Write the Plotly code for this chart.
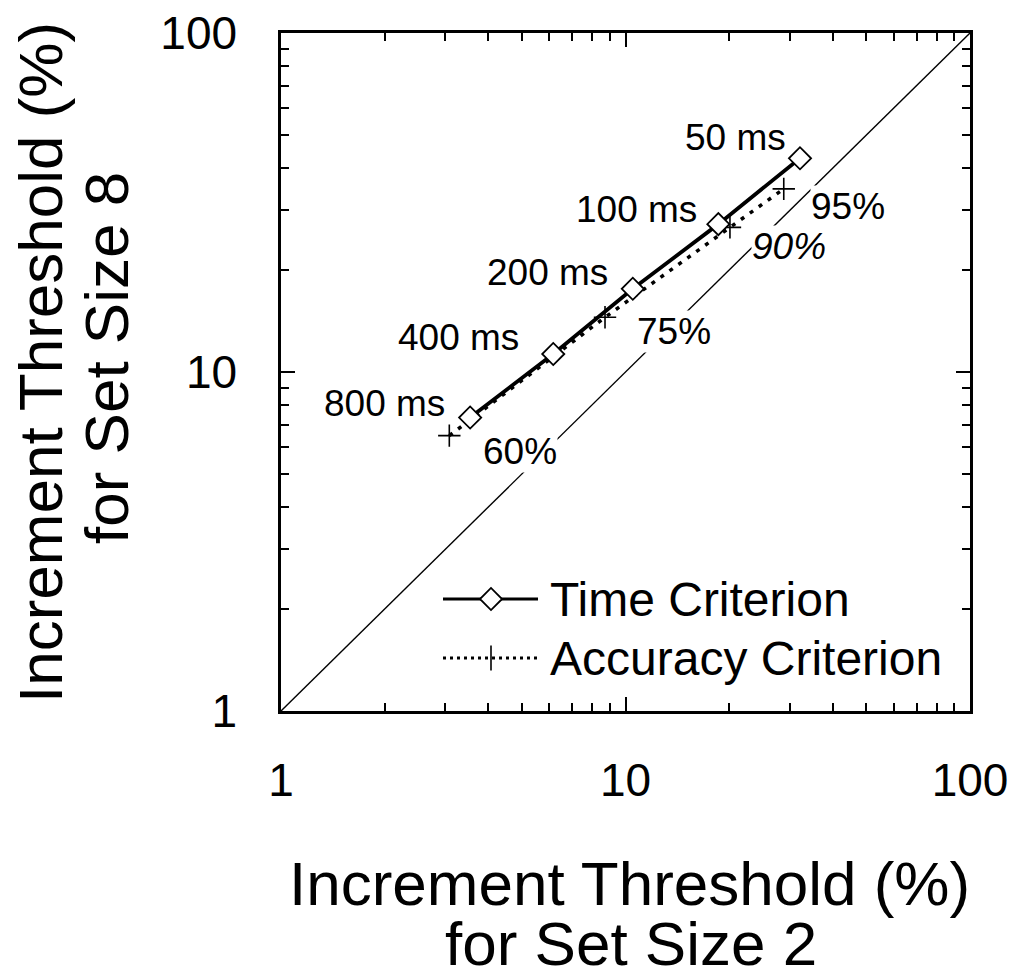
import math
import plotly.graph_objects as go

# ---------------- data ----------------
durations = ["800 ms", "400 ms", "200 ms", "100 ms", "50 ms"]
time_x = [3.54, 6.17, 10.5, 18.6, 32.1]
time_y = [7.34, 11.3, 17.6, 27.3, 42.7]

accuracies = ["60%", "75%", "90%", "95%"]
acc_x = [3.08, 8.72, 20.1, 28.8]
acc_y = [6.49, 14.5, 26.7, 34.7]

identity = [1, 100]
major_ticks = [1, 10, 100]
minor_ticks = [2, 3, 4, 5, 6, 7, 8, 9, 20, 30, 40, 50, 60, 70, 80, 90]

# label offsets (pixels) relative to the data points
dur_dx = [-86, -95, -85, -82, -64]
dur_dy = [14, 17, 16, 15, 21]
acc_dx = [71, 69, 59, 64]
acc_dy = [-16, -14, -19, -18]
acc_italic = [False, False, True, False]

FONT = "Liberation Sans, Arial, Helvetica, sans-serif"
W, H = 1011, 978
L, R, T, B = 281, 970, 33, 711


def px(xp):
    return (xp - L) / (R - L)


def py(yp):
    return (B - yp) / (B - T)


fig = go.Figure()

# identity line
fig.add_trace(go.Scatter(x=identity, y=identity, mode="lines",
                         line=dict(color="black", width=1.4),
                         showlegend=False, hoverinfo="skip"))

DOT = "4px,7px"

fig.add_trace(go.Scatter(x=acc_x, y=acc_y, mode="lines+markers",
                         name="Accuracy Criterion",
                         line=dict(color="black", width=3.5, dash=DOT),
                         marker=dict(symbol="cross-thin", size=16,
                                     line=dict(color="black", width=1.6)),
                         showlegend=False))
fig.add_trace(go.Scatter(x=time_x, y=time_y, mode="lines+markers",
                         name="Time Criterion",
                         line=dict(color="black", width=3.8),
                         marker=dict(symbol="diamond", size=17, color="white",
                                     line=dict(color="black", width=1.8)),
                         showlegend=False))

# manual legend on overlay axes (0-1 paper-like)
lx0, lxm, lx1 = px(443), px(491), px(538)
ly_t, ly_a = py(599), py(658)
fig.add_trace(go.Scatter(x=[lx0, lx1], y=[ly_t, ly_t], mode="lines",
                         line=dict(color="black", width=3), xaxis="x2", yaxis="y2",
                         showlegend=False, hoverinfo="skip"))
fig.add_trace(go.Scatter(x=[lxm], y=[ly_t], mode="markers",
                         marker=dict(symbol="diamond", size=17, color="white",
                                     line=dict(color="black", width=1.8)),
                         xaxis="x2", yaxis="y2", showlegend=False, hoverinfo="skip"))
fig.add_trace(go.Scatter(x=[lx0, lx1], y=[ly_a, ly_a], mode="lines",
                         line=dict(color="black", width=3, dash="3px,4px"),
                         xaxis="x2", yaxis="y2", showlegend=False, hoverinfo="skip"))
fig.add_trace(go.Scatter(x=[lxm], y=[ly_a], mode="markers",
                         marker=dict(symbol="line-ns", size=18,
                                     line=dict(color="black", width=1.6)),
                         xaxis="x2", yaxis="y2", showlegend=False, hoverinfo="skip"))

annotations = []
for txt, yv in (("Time Criterion", ly_t), ("Accuracy Criterion", ly_a)):
    annotations.append(dict(x=px(548), y=yv, xref="paper", yref="paper",
                            text=txt, showarrow=False, xanchor="left",
                            yanchor="middle", font=dict(family=FONT, size=48,
                                                        color="black")))

for name, xv, yv, dx, dy in zip(durations, time_x, time_y, dur_dx, dur_dy):
    annotations.append(dict(x=math.log10(xv), y=math.log10(yv), xref="x", yref="y",
                            text=name, showarrow=False, xanchor="center",
                            yanchor="middle", xshift=dx, yshift=dy,
                            font=dict(family=FONT, size=37, color="black")))

for name, xv, yv, dx, dy, it in zip(accuracies, acc_x, acc_y, acc_dx, acc_dy,
                                    acc_italic):
    annotations.append(dict(x=math.log10(xv), y=math.log10(yv), xref="x", yref="y",
                            text=f"<i>{name}</i>" if it else name,
                            showarrow=False, xanchor="center", yanchor="middle",
                            xshift=dx, yshift=dy, bgcolor="white", borderpad=0,
                            font=dict(family=FONT, size=37, color="black")))

# axis titles
TS = 62
title_font = dict(family=FONT, size=TS, color="black")
annotations += [
    dict(x=px(629), y=py(883), xref="paper", yref="paper",
         text="Increment Threshold (%)", showarrow=False,
         xanchor="center", yanchor="middle", font=title_font),
    dict(x=px(631), y=py(943), xref="paper", yref="paper",
         text="for Set Size 2", showarrow=False,
         xanchor="center", yanchor="middle", font=title_font),
    dict(x=px(40), y=py(363), xref="paper", yref="paper",
         text="Increment Threshold (%)", showarrow=False, textangle=-90,
         xanchor="center", yanchor="middle", font=title_font),
    dict(x=px(106), y=py(358), xref="paper", yref="paper",
         text="for Set Size 8", showarrow=False, textangle=-90,
         xanchor="center", yanchor="middle", font=title_font),
]

axis_common = dict(
    type="log", range=[0, 2], showgrid=False, zeroline=False, automargin=False,
    showline=True, linecolor="black", linewidth=2.5, mirror="allticks",
    ticks="inside", ticklen=14, tickwidth=2, tickcolor="black",
    tickvals=major_ticks, ticktext=[str(v) for v in major_ticks],
    tickfont=dict(family=FONT, size=46, color="black"),
    minor=dict(ticks="inside", ticklen=8, tickwidth=2, tickcolor="black",
               tickvals=minor_ticks, showgrid=False),
)

fig.update_layout(
    width=W, height=H,
    margin=dict(l=L, r=W - R, t=T, b=H - B, pad=0, autoexpand=False),
    paper_bgcolor="white", plot_bgcolor="white",
    xaxis=dict(**axis_common, ticklabelstandoff=27),
    yaxis=dict(**axis_common, ticklabelstandoff=32),
    xaxis2=dict(overlaying="x", range=[0, 1], visible=False, fixedrange=True),
    yaxis2=dict(overlaying="y", range=[0, 1], visible=False, fixedrange=True),
    annotations=annotations,
    showlegend=False,
)

fig.write_html("out.html",
               config={"displayModeBar": False},
               post_script="document.body.style.margin='0';"
                           "document.body.style.overflow='hidden';")
